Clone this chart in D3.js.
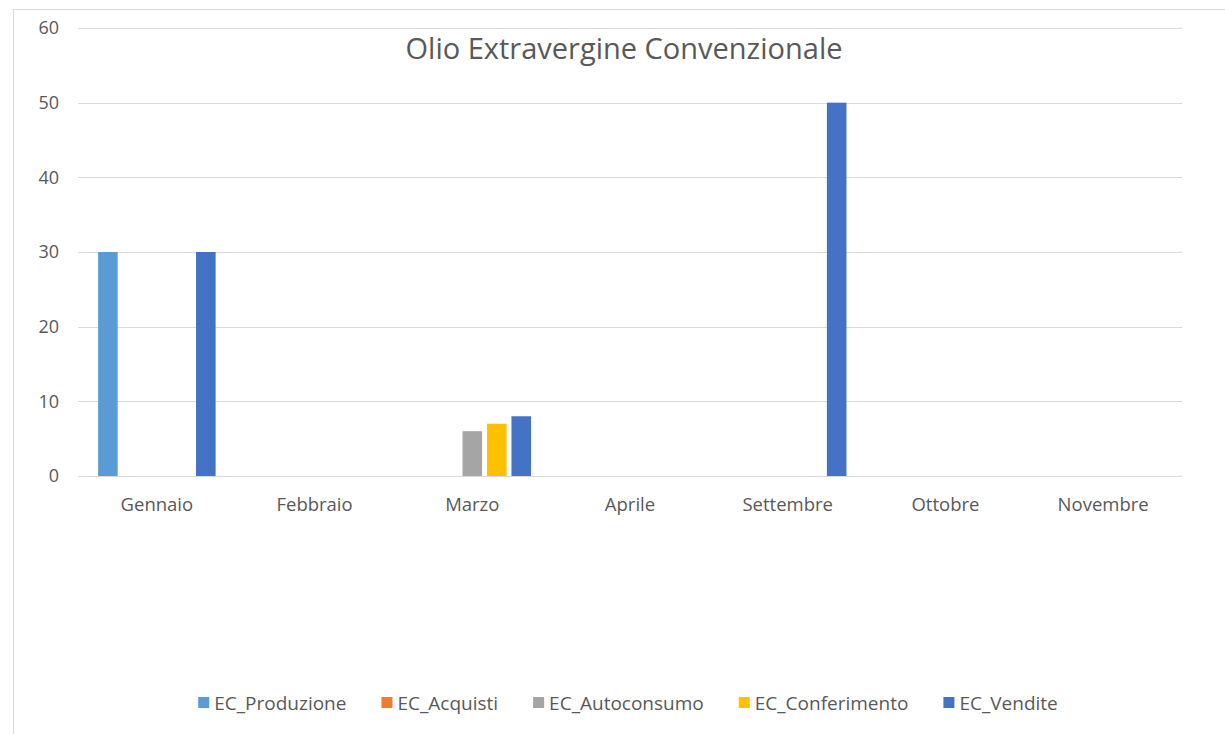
<!DOCTYPE html>
<html>
<head>
<meta charset="utf-8">
<script src="https://cdn.jsdelivr.net/npm/d3@7"></script>
<style>
  body { margin: 0; background: #fff; }
  text { font-family: "Open Sans", "Noto Sans", sans-serif; fill: #595959; }
</style>
</head>
<body>
<div id="vis"></div>
<script>
// data
var months = ["Gennaio", "Febbraio", "Marzo", "Aprile", "Settembre", "Ottobre", "Novembre"];
var seriesNames = ["EC_Produzione", "EC_Acquisti", "EC_Autoconsumo", "EC_Conferimento", "EC_Vendite"];
var produzione   = [30, 0, 0, 0, 0, 0, 0];
var acquisti     = [0, 0, 0, 0, 0, 0, 0];
var autoconsumo  = [0, 0, 6, 0, 0, 0, 0];
var conferimento = [0, 0, 7, 0, 0, 0, 0];
var vendite      = [30, 0, 8, 0, 50, 0, 0];
var yTicks = [0, 10, 20, 30, 40, 50, 60];
var colors = ["#5B9BD5", "#ED7D31", "#A5A5A5", "#FFC000", "#4472C4"];

var width = 1225;
var height = 734;
var plot = { left: 78, right: 1182, top: 28, bottom: 476 };

var seriesValues = [produzione, acquisti, autoconsumo, conferimento, vendite];

var svg = d3.select('#vis')
  .append('svg')
  .attr('width', width)
  .attr('height', height);

// chart border
svg.append('rect')
  .attr('x', 13.5)
  .attr('y', 9.5)
  .attr('width', 1240)
  .attr('height', 760)
  .attr('fill', 'none')
  .attr('stroke', '#d9d9d9')
  .attr('stroke-width', 1);

var y = d3.scaleLinear()
  .domain([0, 60])
  .range([plot.bottom, plot.top]);

var x0 = d3.scaleBand()
  .domain(months)
  .range([plot.left, plot.right])
  .padding(0);

var groupWidth = 117.5;
var x1 = d3.scaleBand()
  .domain(seriesNames)
  .range([0, groupWidth])
  .paddingInner(0.2)
  .paddingOuter(0);

// gridlines
svg.append('g').selectAll('line')
  .data(yTicks)
  .enter().append('line')
  .attr('x1', plot.left)
  .attr('x2', plot.right)
  .attr('y1', function (d) { return Math.round(y(d)) + 0.5; })
  .attr('y2', function (d) { return Math.round(y(d)) + 0.5; })
  .attr('stroke', '#d9d9d9')
  .attr('stroke-width', 1);

// y labels
svg.append('g').selectAll('text')
  .data(yTicks)
  .enter().append('text')
  .attr('x', 59)
  .attr('y', function (d) { return y(d); })
  .attr('dy', '0.35em')
  .attr('text-anchor', 'end')
  .style('font-size', '18px')
  .text(function (d) { return d; });

// bars
var groups = svg.append('g').selectAll('g')
  .data(months)
  .enter().append('g')
  .attr('transform', function (d) {
    return 'translate(' + (x0(d) + (x0.bandwidth() - groupWidth) / 2) + ',0)';
  });

groups.selectAll('rect')
  .data(function (m, i) {
    return seriesNames.map(function (s, j) {
      return { series: s, value: seriesValues[j][i], color: colors[j] };
    });
  })
  .enter().append('rect')
  .attr('x', function (d) { return x1(d.series); })
  .attr('width', x1.bandwidth())
  .attr('y', function (d) { return y(d.value); })
  .attr('height', function (d) { return y(0) - y(d.value); })
  .attr('fill', function (d) { return d.color; });

// category labels
svg.append('g').selectAll('text')
  .data(months)
  .enter().append('text')
  .attr('x', function (d) { return x0(d) + x0.bandwidth() / 2; })
  .attr('y', 511)
  .attr('text-anchor', 'middle')
  .style('font-size', '18.5px')
  .text(function (d) { return d; });

// title
svg.append('text')
  .attr('x', 624)
  .attr('y', 59)
  .attr('text-anchor', 'middle')
  .style('font-size', '29px')
  .text('Olio Extravergine Convenzionale');

// legend
var legend = svg.append('g');
var lx = 0;
var gap = 35;
seriesNames.forEach(function (name, i) {
  var item = legend.append('g').attr('transform', 'translate(' + lx + ',0)');
  item.append('rect')
    .attr('x', 0)
    .attr('y', -6)
    .attr('width', 11)
    .attr('height', 11)
    .attr('fill', colors[i]);
  var t = item.append('text')
    .attr('x', 16)
    .attr('y', 0)
    .attr('dy', '0.35em')
    .style('font-size', '19px')
    .text(name);
  lx += 16 + t.node().getComputedTextLength() + gap;
});
var legendWidth = lx - gap;
legend.attr('transform', 'translate(' + (628 - legendWidth / 2) + ',703)');
</script>
</body>
</html>
